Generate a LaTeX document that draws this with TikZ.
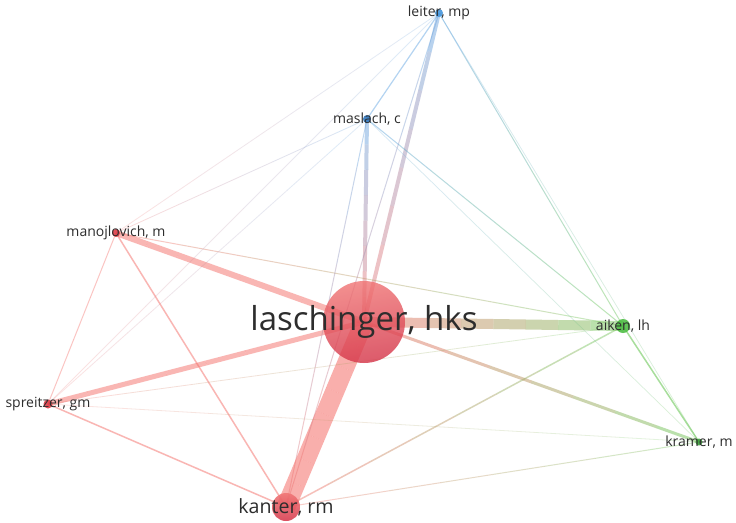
\documentclass[tikz,border=0pt]{standalone}
\usepackage{fontspec}
\newfontfamily\osans{Open Sans}
\usetikzlibrary{calc}
\pgfdeclarelayer{background}
\pgfsetlayers{background,main}
\definecolor{R}{RGB}{245,110,105}
\definecolor{G}{RGB}{110,200,90}
\definecolor{B}{RGB}{90,160,225}
\definecolor{nred}{RGB}{222,62,72}
\definecolor{nredT}{RGB}{240,115,115}
\definecolor{nredB}{RGB}{212,50,70}
\definecolor{ngreen}{RGB}{80,190,70}
\definecolor{ngreenD}{RGB}{60,160,60}
\definecolor{nblue}{RGB}{70,150,220}
\definecolor{nblueD}{RGB}{50,120,190}
\definecolor{txt}{RGB}{45,45,45}
\tikzset{
  dot/.style={circle, inner sep=0pt, fill opacity=0.9},
  lbl/.style={text=txt, inner sep=0pt, font=\osans\fontsize{14}{16}\selectfont},
}
\newcommand\edgeseg[6]{%
  \foreach \k in {0,...,7}{%
    \pgfmathsetmacro\ta{\k/8}%
    \pgfmathsetmacro\tb{(\k+1)/8}%
    \pgfmathtruncatemacro\mx{100-(\k+0.5)*12.5}%
    \draw[line width=#5pt, draw=#3!\mx!#4, draw opacity=#6, line cap=butt]
      ($(#1.center)!\ta!(#2.center)$) -- ($(#1.center)!\tb!(#2.center)$);
  }%
}
\begin{document}
\begin{tikzpicture}[x=1pt,y=-1pt]
\useasboundingbox (0,0) rectangle (736,522);
% nodes
\node[circle, inner sep=0pt, minimum size=82pt, shading=axis, top color=nredT, bottom color=nredB, shading angle=10, fill opacity=0.8] (las) at (364,322) {};
\node[dot, minimum size=28pt, shading=axis, top color=nredT, bottom color=nredB, fill opacity=0.85] (kan) at (286,507) {};
\node[dot, minimum size=14pt, fill=ngreen] (aik) at (623,326) {};
\node[dot, minimum size=7pt, fill=ngreenD] (kra) at (699,442) {};
\node[dot, minimum size=8pt, fill=nblue] (lei) at (439,13) {};
\node[dot, minimum size=8pt, fill=nblueD] (mas) at (367,119) {};
\node[dot, minimum size=8pt, fill=nred] (man) at (116,233) {};
\node[dot, minimum size=9pt, fill=nred] (spr) at (48,404) {};
% edges
\begin{pgfonlayer}{background}
\fill[white] (0,0) rectangle (736,522);
\edgeseg{las}{kan}{R}{R}{19}{0.55}
\edgeseg{las}{aik}{R}{G}{10}{0.5}
\edgeseg{las}{man}{R}{R}{6}{0.5}
\edgeseg{las}{spr}{R}{R}{5}{0.5}
\edgeseg{las}{lei}{R}{B}{4}{0.45}
\edgeseg{las}{mas}{R}{B}{4}{0.45}
\edgeseg{las}{kra}{R}{G}{3}{0.5}
\edgeseg{mas}{lei}{B}{B}{1.2}{0.45}
\edgeseg{aik}{kra}{G}{G}{1.5}{0.6}
\edgeseg{kan}{aik}{R}{G}{1.5}{0.45}
\edgeseg{kan}{man}{R}{R}{1.5}{0.5}
\edgeseg{kan}{spr}{R}{R}{1.5}{0.5}
\edgeseg{man}{spr}{R}{R}{1}{0.4}
\edgeseg{man}{aik}{R}{G}{1}{0.4}
\edgeseg{kan}{lei}{R}{B}{1}{0.4}
\edgeseg{kan}{mas}{R}{B}{1}{0.4}
\edgeseg{kan}{kra}{R}{G}{1}{0.35}
\edgeseg{lei}{aik}{B}{G}{1}{0.45}
\edgeseg{mas}{aik}{B}{G}{1}{0.45}
\edgeseg{lei}{kra}{B}{G}{0.7}{0.25}
\edgeseg{mas}{kra}{B}{G}{0.7}{0.25}
\edgeseg{man}{lei}{R}{B}{0.8}{0.2}
\edgeseg{man}{mas}{R}{B}{0.8}{0.25}
\edgeseg{spr}{lei}{R}{B}{0.8}{0.2}
\edgeseg{spr}{mas}{R}{B}{0.8}{0.2}
\edgeseg{spr}{aik}{R}{G}{0.8}{0.25}
\edgeseg{spr}{kra}{R}{G}{0.8}{0.2}
\end{pgfonlayer}
% labels
\node[lbl, font=\osans\fontsize{33}{40}\selectfont] (lasl) at (las) {laschinger, hks};
\node[lbl, font=\osans\fontsize{19.6}{24}\selectfont] (kanl) at (kan) {kanter, rm};
\node[lbl] (aikl) at (aik) {aiken, lh};
\node[lbl] (kral) at (kra) {kramer, m};
\node[lbl] (leil) at (lei) {leiter, mp};
\node[lbl] (masl) at (mas) {maslach, c};
\node[lbl] (manl) at (man) {manojlovich, m};
\node[lbl] (sprl) at (spr) {spreitzer, gm};
\end{tikzpicture}
\end{document}
